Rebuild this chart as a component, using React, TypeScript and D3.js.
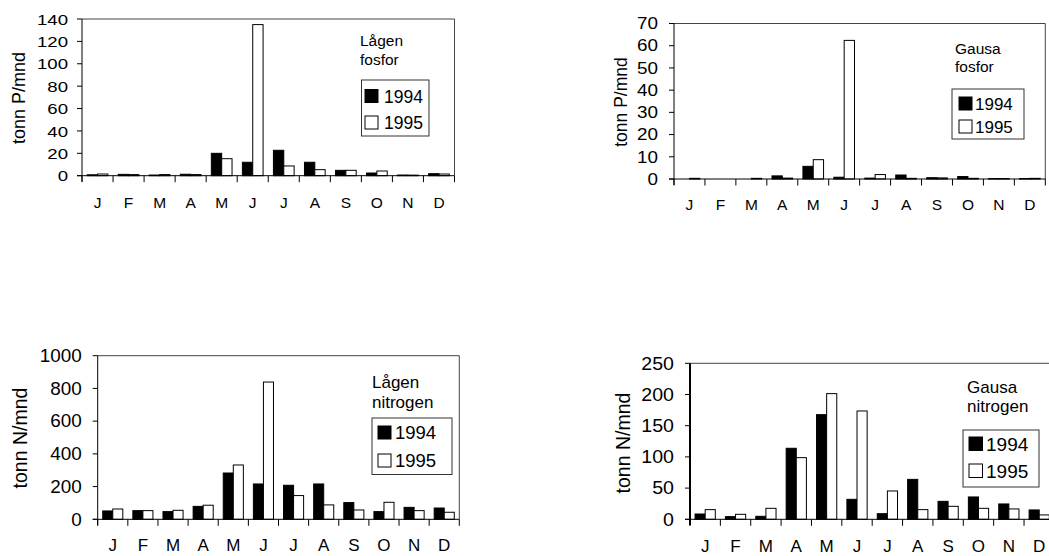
import React from "react";
import * as d3 from "d3";

const months = ["J", "F", "M", "A", "M", "J", "J", "A", "S", "O", "N", "D"];
const years = ["1994", "1995"];

const lagenP1994 = [0.8, 1.2, 0.6, 1.3, 20, 12, 22.7, 12, 4.8, 2.4, 0.6, 1.8];
const lagenP1995 = [1.5, 1.0, 1.0, 1.0, 15.2, 135, 8.7, 5.4, 4.8, 4.2, 0.5, 1.5];
const gausaP1994 = [0, 0, 0, 1.4, 5.7, 0.8, 0.4, 1.8, 0.6, 1.1, 0.2, 0.2];
const gausaP1995 = [0.3, 0, 0.3, 0.4, 8.7, 62.4, 2.0, 0.3, 0.5, 0.3, 0.2, 0.3];
const lagenN1994 = [51, 53, 47, 79, 283, 216, 208, 216, 102, 47, 73, 69];
const lagenN1995 = [63, 53, 55, 86, 332, 839, 145, 88, 57, 104, 53, 43];
const gausaN1994 = [8.5, 4.3, 4.8, 113.8, 167.7, 32, 9, 64, 28.8, 35.8, 24.6, 15];
const gausaN1995 = [15.5, 8, 17.6, 98.8, 201.4, 173.6, 45.4, 15.5, 20.8, 17.6, 16.6, 7];

const yTicksLagenP = [0, 20, 40, 60, 80, 100, 120, 140];
const yTicksGausaP = [0, 10, 20, 30, 40, 50, 60, 70];
const yTicksLagenN = [0, 200, 400, 600, 800, 1000];
const yTicksGausaN = [0, 50, 100, 150, 200, 250];

const FONT = "'Liberation Sans', Arial, sans-serif";

type PanelCfg = {
  x0: number; x1: number; yTop: number; yBot: number;
  ticks: number[]; v94: number[]; v95: number[];
  yLabel: string; yLabelX: number; yLabelY: number; yLabelSize: number;
  tickSize: number; tickStretch: number; tickGap: number;
  monthSize: number; monthY: number;
  title: string[]; titleX: number; titleY: number[]; titleSize: number;
  legX0: number; legX1: number; legY0: number; legY1: number;
  swX: number; sw: number; txtX: number; legBase: number[]; legSize: number;
  axisW: number;
};

const panels: PanelCfg[] = [
  {
    x0: 82, x1: 454.5, yTop: 19, yBot: 175.7,
    ticks: yTicksLagenP, v94: lagenP1994, v95: lagenP1995,
    yLabel: "tonn P/mnd", yLabelX: 24.5, yLabelY: 98, yLabelSize: 18,
    tickSize: 15.5, tickStretch: 1.2, tickGap: 14,
    monthSize: 15.5, monthY: 208,
    title: ["Lågen", "fosfor"], titleX: 360, titleY: [46, 65], titleSize: 15.5,
    legX0: 361.5, legX1: 429, legY0: 80, legY1: 136,
    swX: 365, sw: 13, txtX: 384, legBase: [102.5, 129], legSize: 17.5,
    axisW: 1,
  },
  {
    x0: 674, x1: 1045.3, yTop: 23.5, yBot: 179,
    ticks: yTicksGausaP, v94: gausaP1994, v95: gausaP1995,
    yLabel: "tonn P/mnd", yLabelX: 627, yLabelY: 102, yLabelSize: 17.5,
    tickSize: 16, tickStretch: 1.18, tickGap: 16,
    monthSize: 15.5, monthY: 210,
    title: ["Gausa", "fosfor"], titleX: 955, titleY: [54, 72], titleSize: 15.5,
    legX0: 952, legX1: 1024, legY0: 89, legY1: 139,
    swX: 959, sw: 13, txtX: 975, legBase: [110, 133], legSize: 17,
    axisW: 1,
  },
  {
    x0: 97.7, x1: 459.3, yTop: 355.7, yBot: 519.3,
    ticks: yTicksLagenN, v94: lagenN1994, v95: lagenN1995,
    yLabel: "tonn N/mnd", yLabelX: 27, yLabelY: 438, yLabelSize: 19.5,
    tickSize: 17.5, tickStretch: 1.08, tickGap: 16,
    monthSize: 17, monthY: 551,
    title: ["Lågen", "nitrogen"], titleX: 372, titleY: [388, 408], titleSize: 17,
    legX0: 372, legX1: 452, legY0: 418, legY1: 474.5,
    swX: 378, sw: 13, txtX: 395, legBase: [439, 467], legSize: 18.5,
    axisW: 1,
  },
  {
    x0: 690, x1: 1054.4, yTop: 363.3, yBot: 519.3,
    ticks: yTicksGausaN, v94: gausaN1994, v95: gausaN1995,
    yLabel: "tonn N/mnd", yLabelX: 630, yLabelY: 443, yLabelSize: 19.5,
    tickSize: 17.5, tickStretch: 1.12, tickGap: 16,
    monthSize: 17, monthY: 551.5,
    title: ["Gausa", "nitrogen"], titleX: 967, titleY: [393, 412], titleSize: 17,
    legX0: 963, legX1: 1039, legY0: 430, legY1: 487,
    swX: 969, sw: 13.5, txtX: 986, legBase: [450.5, 477.5], legSize: 19,
    axisW: 2,
  },
];

function Panel({ c }: { c: PanelCfg }) {
  const x = d3.scaleBand<number>().domain(d3.range(12)).range([c.x0, c.x1]).paddingInner(0).paddingOuter(0);
  const inner = d3.scaleBand<string>().domain(years).range([0, x.bandwidth()]).paddingInner(0).paddingOuter(0.5);
  const y = d3.scaleLinear().domain([0, d3.max(c.ticks) as number]).range([c.yBot, c.yTop]);
  const boundaries = d3.range(13).map((i) => c.x0 + i * x.bandwidth());
  const series = [c.v94, c.v95];
  return (
    <g>
      <line x1={c.x0} x2={c.x1} y1={c.yTop} y2={c.yTop} stroke="#444" strokeWidth={1} />
      <line x1={c.x1} x2={c.x1} y1={c.yTop} y2={c.yBot} stroke="#444" strokeWidth={1} />
      {months.map((m, i) =>
        years.map((yr, k) => {
          const v = series[k][i];
          const bx = (x(i) as number) + (inner(yr) as number);
          const by = y(v);
          const h = c.yBot - by;
          if (h <= 0.05) return null;
          return (
            <rect key={`${i}-${k}`} x={bx} y={by} width={inner.bandwidth()} height={h}
              fill={k === 0 ? "#000" : "#fff"} stroke="#000" strokeWidth={1} />
          );
        })
      )}
      <line x1={c.x0} x2={c.x0} y1={c.yTop} y2={c.yBot + 6} stroke="#000" strokeWidth={c.axisW} />
      {c.ticks.map((t) => (
        <g key={t}>
          <line x1={c.x0 - 5} x2={c.x0} y1={y(t)} y2={y(t)} stroke="#000" strokeWidth={1} />
          <g transform={`translate(${c.x0 - c.tickGap},${y(t)}) scale(${c.tickStretch},1)`}>
            <text x={0} y={0} dy="0.36em" textAnchor="end" fontSize={c.tickSize} fontFamily={FONT} fill="#000">{t}</text>
          </g>
        </g>
      ))}
      <line x1={c.x0 - 5} x2={c.x1} y1={c.yBot} y2={c.yBot} stroke="#000" strokeWidth={1} />
      {boundaries.map((bx, i) => (
        <line key={i} x1={bx} x2={bx} y1={c.yBot} y2={c.yBot + 6.5} stroke="#000" strokeWidth={1} />
      ))}
      {months.map((m, i) => (
        <text key={i} x={(x(i) as number) + x.bandwidth() / 2} y={c.monthY} textAnchor="middle"
          fontSize={c.monthSize} fontFamily={FONT} fill="#000">{m}</text>
      ))}
      <text transform={`translate(${c.yLabelX},${c.yLabelY}) rotate(-90)`} textAnchor="middle"
        fontSize={c.yLabelSize} fontFamily={FONT} fill="#000">{c.yLabel}</text>
      {c.title.map((t, i) => (
        <text key={i} x={c.titleX} y={c.titleY[i]} fontSize={c.titleSize} fontFamily={FONT} fill="#000">{t}</text>
      ))}
      <rect x={c.legX0} y={c.legY0} width={c.legX1 - c.legX0} height={c.legY1 - c.legY0} fill="#fff" stroke="#333" strokeWidth={1} />
      {years.map((yr, k) => (
        <g key={yr}>
          <rect x={c.swX} y={c.legBase[k] - c.sw} width={c.sw} height={c.sw}
            fill={k === 0 ? "#000" : "#fff"} stroke="#000" strokeWidth={1} />
          <text x={c.txtX} y={c.legBase[k]} fontSize={c.legSize} fontFamily={FONT} fill="#000">{yr}</text>
        </g>
      ))}
    </g>
  );
}

export default function App() {
  return (
    <svg width={1049} height={556} viewBox="0 0 1049 556"
      style={{ position: "absolute", left: 0, top: 0, background: "#fff" }}>
      <rect x={0} y={0} width={1049} height={556} fill="#fff" />
      {panels.map((c, i) => (
        <Panel key={i} c={c} />
      ))}
    </svg>
  );
}
